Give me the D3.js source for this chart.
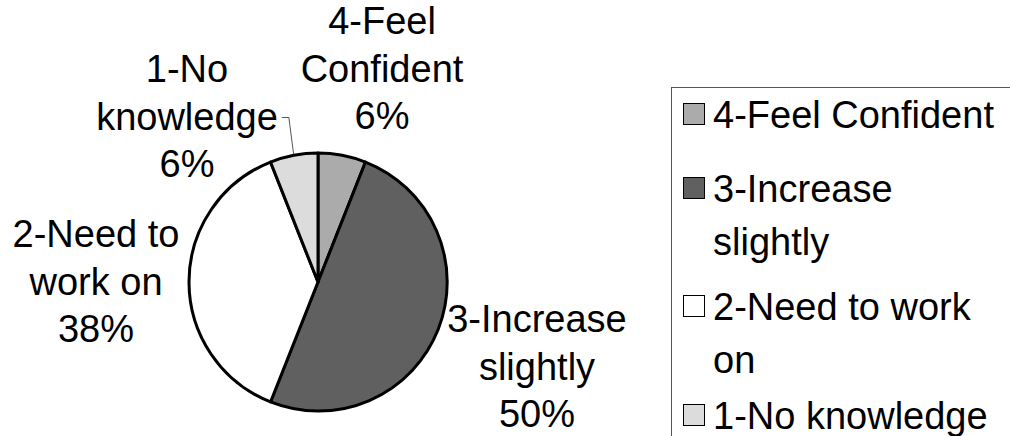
<!DOCTYPE html>
<html>
<head>
<meta charset="utf-8">
<script src="https://cdn.jsdelivr.net/npm/d3@7"></script>
<style>
  html, body { margin: 0; padding: 0; background: #fff; }
  svg { display: block; }
  text { font-family: "Liberation Sans", Arial, sans-serif; fill: #000; }
</style>
</head>
<body>
<svg id="chart" width="1010" height="436"></svg>
<script>
// ---- data ----
const categories = ["4-Feel Confident", "3-Increase slightly", "2-Need to work on", "1-No knowledge"];
const values = [6, 50, 38, 6];
const fills = ["#ababab", "#606060", "#ffffff", "#dcdcdc"];

// ---- layout (not data) ----
const W = 1010, H = 436;
const cx = 318, cy = 282, R = 129;
const fontSize = 38;
const labelLineH = 47.5;
const labelWrap = 190;
const legendWrap = 290;
// label anchor: [x center, first baseline] per slice
const labelAnchors = [[382, 34], [537, 332], [96, 247], [187, 82]];

const svg = d3.select("#chart");
svg.append("rect").attr("width", W).attr("height", H).attr("fill", "#fff");

const total = d3.sum(values);
const pie = d3.pie().sort(null).value(d => d.value);
const arc = d3.arc().innerRadius(0).outerRadius(R);
const data = categories.map((c, i) => ({ name: c, value: values[i], fill: fills[i] }));
const arcs = pie(data);

const g = svg.append("g").attr("transform", `translate(${cx},${cy})`);
g.selectAll("path.slice").data(arcs).join("path")
  .attr("class", "slice")
  .attr("d", arc)
  .attr("fill", d => d.data.fill)
  .attr("stroke", "#000")
  .attr("stroke-width", 3)
  .attr("stroke-linejoin", "round");

// word wrap helper using measured widths
const measurer = svg.append("text").attr("font-size", fontSize).attr("visibility", "hidden");
function wrap(str, maxW) {
  const words = str.split(" ");
  const lines = [];
  let cur = "";
  words.forEach(w => {
    const test = cur ? cur + " " + w : w;
    measurer.text(test);
    if (cur && measurer.node().getComputedTextLength() > maxW) {
      lines.push(cur);
      cur = w;
    } else cur = test;
  });
  if (cur) lines.push(cur);
  return lines;
}

const pct = d3.format(".0%");
const labels = svg.append("g");
arcs.forEach((a, i) => {
  const lines = wrap(a.data.name, labelWrap).concat([pct(a.data.value / total)]);
  const [lx, ly] = labelAnchors[i];
  const t = labels.append("text")
    .attr("font-size", fontSize)
    .attr("text-anchor", "middle");
  lines.forEach((ln, k) => {
    t.append("tspan").attr("x", lx).attr("y", ly + k * labelLineH).text(ln);
  });
});

// leader line for the small "1-No knowledge" slice
{
  const i = 3;
  const a = arcs[i];
  const mid = (a.startAngle + a.endAngle) / 2;
  const ex = cx + (R + 1) * Math.sin(mid), ey = cy - (R + 1) * Math.cos(mid);
  measurer.text("knowledge");
  const kw = measurer.node().getComputedTextLength();
  const sx = labelAnchors[i][0] + kw / 2 + 4;
  const sy = labelAnchors[i][1] + labelLineH - 12;
  svg.append("path")
    .attr("d", `M${sx},${sy}H${sx + 7}L${ex},${ey}`)
    .attr("fill", "none")
    .attr("stroke", "#555")
    .attr("stroke-width", 1);
}

// ---- legend ----
const legX = 671, legY = 87;
svg.append("rect")
  .attr("x", legX + 0.5).attr("y", legY + 0.5)
  .attr("width", W - legX + 20).attr("height", H - legY + 20)
  .attr("fill", "#fff").attr("stroke", "#555").attr("stroke-width", 1);

const legLineH = 53;
const legGaps = [21, 12, 3];
const sq = 21;
let yb = 128;
const leg = svg.append("g");
categories.forEach((c, i) => {
  const lines = wrap(c, legendWrap);
  leg.append("rect")
    .attr("x", 683.5).attr("y", yb - 24.5)
    .attr("width", sq).attr("height", sq)
    .attr("fill", fills[i]).attr("stroke", "#000").attr("stroke-width", 1);
  const t = leg.append("text").attr("font-size", fontSize);
  lines.forEach((ln, k) => {
    t.append("tspan").attr("x", 713).attr("y", yb + k * legLineH).text(ln);
  });
  yb += lines.length * legLineH + (legGaps[i] || 0);
});
measurer.remove();
</script>
</body>
</html>
